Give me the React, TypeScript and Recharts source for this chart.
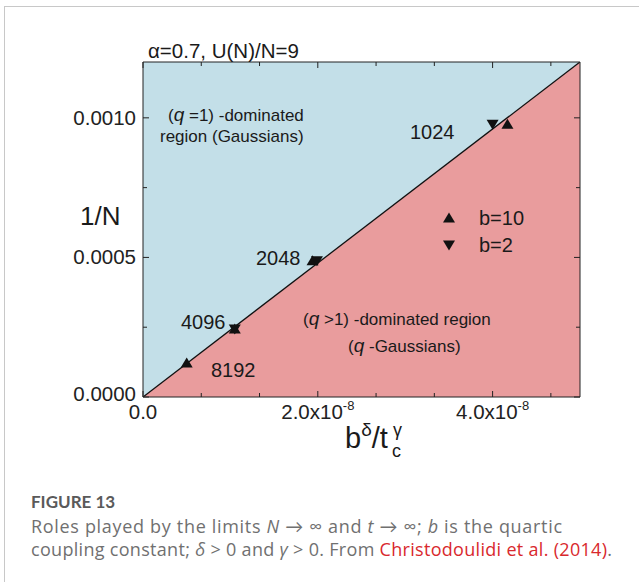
import React from 'react';
import { ComposedChart, XAxis, YAxis, Area, Line, Scatter, CartesianGrid } from 'recharts';

// Boundary line between the two regions (x = b^δ/t_c^γ, y = 1/N)
const boundaryX = [0, 5e-8];
const boundaryY = [0, 0.0012];

// b = 10 (up triangles)
const b10X = [0.5e-8, 1.05e-8, 1.94e-8, 4.17e-8];
const b10Y = [0.000122, 0.000244, 0.000488, 0.000977];

// b = 2 (down triangles)
const b2X = [1.05e-8, 1.99e-8, 4.0e-8];
const b2Y = [0.000244, 0.000488, 0.000977];

// Axis ticks
const xTicks = [0, 0.6667e-8, 1.3333e-8, 2e-8, 2.6667e-8, 3.3333e-8, 4e-8, 4.6667e-8];
const xMajor = [0, 2e-8, 4e-8];
const xMajorLabels = ['0.0', '2.0x10', '4.0x10'];
const xMajorExp = ['', '-8', '-8'];
const yTicks = [0, 0.00025, 0.0005, 0.00075, 0.001];
const yMajor = [0, 0.0005, 0.001];
const yMajorLabels = ['0.0000', '0.0005', '0.0010'];

const boundaryData = boundaryX.map((x, i) => ({ x, y: boundaryY[i] }));
const b10Data = b10X.map((x, i) => ({ x, y: b10Y[i] }));
const b2Data = b2X.map((x, i) => ({ x, y: b2Y[i] }));

const BLUE = '#c3dfe8';
const RED = '#e99c9d';
const FONT = '"Liberation Sans", Arial, sans-serif';
const CAP_FONT = '"Open Sans", Lato, sans-serif';
const TICK_FS = 20.5;

const findIdx = (arr: number[], v: number) => arr.findIndex((m) => Math.abs(m - v) < 1e-14);

const BottomTick = (props: any) => {
  const { x, y, payload } = props;
  const i = findIdx(xMajor, payload.value);
  const major = i >= 0;
  return (
    <g>
      <line x1={x} y1={y} x2={x} y2={y - (major ? 6 : 4)} stroke="#222" strokeWidth={1} />
      {major && (
        <text x={x} y={y + 22} textAnchor="middle" fontFamily={FONT} fontSize={TICK_FS} fill="#222">
          {xMajorLabels[i]}
          {xMajorExp[i] && (
            <tspan fontSize={13} dy={-9}>{xMajorExp[i]}</tspan>
          )}
        </text>
      )}
    </g>
  );
};

const TopTick = (props: any) => {
  const { x, y, payload } = props;
  const major = findIdx(xMajor, payload.value) >= 0;
  return <line x1={x} y1={y} x2={x} y2={y + (major ? 6 : 4)} stroke="#222" strokeWidth={1} />;
};

const LeftTick = (props: any) => {
  const { x, y, payload } = props;
  const i = findIdx(yMajor, payload.value);
  const major = i >= 0;
  return (
    <g>
      <line x1={x} y1={y} x2={x + (major ? 6 : 4)} y2={y} stroke="#222" strokeWidth={1} />
      {major && (
        <text x={x - 7} y={i === 0 ? y + 4 : y + 7} textAnchor="end" fontFamily={FONT} fontSize={TICK_FS} fill="#222">
          {yMajorLabels[i]}
        </text>
      )}
    </g>
  );
};

const RightTick = (props: any) => {
  const { x, y, payload } = props;
  const major = findIdx(yMajor, payload.value) >= 0;
  return <line x1={x} y1={y} x2={x - (major ? 6 : 4)} y2={y} stroke="#222" strokeWidth={1} />;
};

const UpTri = (props: any) => {
  const { cx, cy } = props;
  return <polygon points={`${cx - 6},${cy + 4.5} ${cx + 6},${cy + 4.5} ${cx},${cy - 5.5}`} fill="#111" />;
};
const DownTri = (props: any) => {
  const { cx, cy } = props;
  return <polygon points={`${cx - 6},${cy - 4.5} ${cx + 6},${cy - 4.5} ${cx},${cy + 5.5}`} fill="#111" />;
};

export default function App() {
  return (
    <div style={{ position: 'absolute', left: 0, top: 0, width: 639, height: 582, background: '#fff', overflow: 'hidden' }}>
      <div
        style={{
          position: 'absolute',
          left: 4,
          top: 6,
          width: 700,
          height: 700,
          borderTop: '1px solid #c8c8c8',
          borderLeft: '1px solid #c8c8c8',
        }}
      />
      <div style={{ position: 'absolute', left: 0, top: 0 }}>
        <ComposedChart
          width={639}
          height={460}
          data={boundaryData}
          margin={{ top: 52, right: 49, left: 83, bottom: 33 }}
        >
          <CartesianGrid horizontal={false} vertical={false} fill={BLUE} fillOpacity={1} />
          <XAxis
            xAxisId="b"
            dataKey="x"
            type="number"
            domain={[0, 5e-8]}
            allowDataOverflow
            ticks={xTicks}
            interval={0}
            tickSize={0}
            tickMargin={0}
            height={30}
            axisLine={{ stroke: '#222', strokeWidth: 1 }}
            tick={<BottomTick />}
          />
          <XAxis
            xAxisId="t"
            orientation="top"
            dataKey="x"
            type="number"
            domain={[0, 5e-8]}
            allowDataOverflow
            ticks={xTicks}
            interval={0}
            tickSize={0}
            tickMargin={0}
            height={10}
            axisLine={{ stroke: '#222', strokeWidth: 1 }}
            tick={<TopTick />}
          />
          <YAxis
            yAxisId="l"
            dataKey="y"
            type="number"
            domain={[0, 0.0012]}
            allowDataOverflow
            ticks={yTicks}
            interval={0}
            tickSize={0}
            tickMargin={0}
            width={60}
            axisLine={{ stroke: '#222', strokeWidth: 1 }}
            tick={<LeftTick />}
          />
          <YAxis
            yAxisId="r"
            orientation="right"
            dataKey="y"
            type="number"
            domain={[0, 0.0012]}
            allowDataOverflow
            ticks={yTicks}
            interval={0}
            tickSize={0}
            tickMargin={0}
            width={10}
            axisLine={{ stroke: '#222', strokeWidth: 1 }}
            tick={<RightTick />}
          />
          <Area
            xAxisId="b"
            yAxisId="l"
            type="linear"
            dataKey="y"
            stroke="none"
            fill={RED}
            fillOpacity={1}
            isAnimationActive={false}
            dot={false}
            activeDot={false}
          />
          <Line
            xAxisId="b"
            yAxisId="l"
            type="linear"
            dataKey="y"
            stroke="#111"
            strokeWidth={1.3}
            dot={false}
            activeDot={false}
            isAnimationActive={false}
          />
          <Scatter xAxisId="b" yAxisId="l" data={b10Data} shape={<UpTri />} isAnimationActive={false} />
          <Scatter xAxisId="b" yAxisId="l" data={b2Data} shape={<DownTri />} isAnimationActive={false} />
        </ComposedChart>
      </div>
      <svg
        width={639}
        height={582}
        style={{ position: 'absolute', left: 0, top: 0, pointerEvents: 'none' }}
      >
        <g fontFamily={FONT} fill="#1a1a1a">
          <text x={148} y={58} fontSize={20.5}>α=0.7, U(N)/N=9</text>
          <text x={80} y={225} fontSize={26}>1/N</text>
          <text x={345} y={448} fontSize={29}>
            b<tspan fontSize={19} dy={-12}>δ</tspan>
            <tspan fontSize={29} dy={12}>/t</tspan>
          </text>
          <text x={393} y={436} fontSize={18}>γ</text>
          <text x={392} y={457} fontSize={18}>c</text>

          <text x={168} y={121} fontSize={17}>
            (<tspan fontStyle="italic" fontSize={19}>q</tspan> =1) -dominated
          </text>
          <text x={160} y={142} fontSize={17}>region (Gaussians)</text>
          <text x={303} y={325} fontSize={17}>
            (<tspan fontStyle="italic" fontSize={19}>q</tspan> &gt;1) -dominated region
          </text>
          <text x={348} y={352} fontSize={17}>
            (<tspan fontStyle="italic" fontSize={19}>q</tspan> -Gaussians)
          </text>

          <text x={410} y={139} fontSize={20}>1024</text>
          <text x={256} y={265} fontSize={20}>2048</text>
          <text x={181} y={329} fontSize={20}>4096</text>
          <text x={211} y={377} fontSize={20}>8192</text>

          <polygon points="443,222.5 455,222.5 449,212.5" fill="#111" />
          <text x={479} y={225} fontSize={20}>b=10</text>
          <polygon points="443,240.5 455,240.5 449,250.5" fill="#111" />
          <text x={479} y={252} fontSize={20}>b=2</text>
        </g>
        <text x={31} y={508} fontFamily="Lato, sans-serif" fontSize={17} fontWeight={700} fill="#5a5a5a">FIGURE 13</text>
        <g fontFamily={CAP_FONT} fontSize={18} fill="#707070">
          <text x={31} y={533} textLength={531} lengthAdjust="spacing">
            Roles played by the limits <tspan fontStyle="italic">N</tspan> → ∞ and <tspan fontStyle="italic">t</tspan> → ∞; <tspan fontStyle="italic">b</tspan> is the quartic
          </text>
          <text x={31} y={556} textLength={581} lengthAdjust="spacing">
            coupling constant; <tspan fontStyle="italic">δ</tspan> &gt; 0 and <tspan fontStyle="italic">γ</tspan> &gt; 0. From <tspan fill="#d9282d">Christodoulidi et al. (2014)</tspan>.
          </text>
        </g>
      </svg>
    </div>
  );
}
